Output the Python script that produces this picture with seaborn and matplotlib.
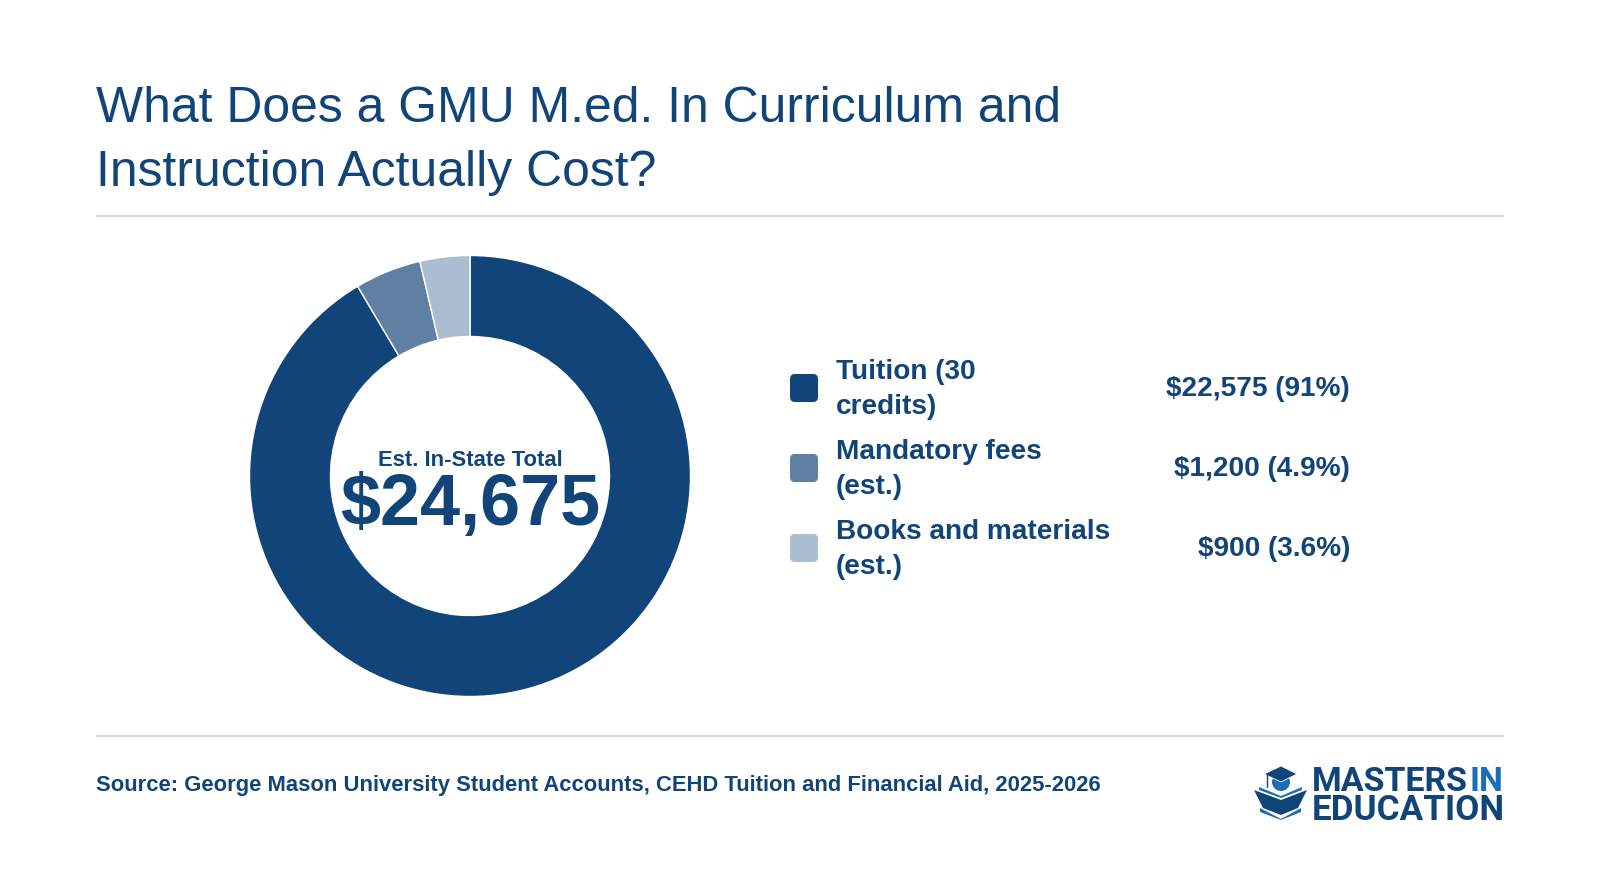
import matplotlib
matplotlib.use("Agg")
import matplotlib.pyplot as plt
import seaborn as sns
from matplotlib.patches import FancyBboxPatch, Polygon, Circle

categories = ["Tuition (30\ncredits)", "Mandatory fees\n(est.)", "Books and materials\n(est.)"]
costs = [22575, 1200, 900]
cost_labels = ["$22,575 (91%)", "$1,200 (4.9%)", "$900 (3.6%)"]
total_label = "$24,675"
total_caption = "Est. In-State Total"
title_lines = ["What Does a GMU M.ed. In Curriculum and", "Instruction Actually Cost?"]
source_text = "Source: George Mason University Student Accounts, CEHD Tuition and Financial Aid, 2025-2026"

NAVY = "#114478"
BRIGHT = "#1b6db5"
RULE = "#d3dde9"
palette = sns.color_palette(["#114478", "#5f7fa3", "#abbdd3"])

sns.set_theme(style="white")
plt.rcParams["font.family"] = ["Liberation Sans", "DejaVu Sans"]

W, H = 1600, 896
PX = 0.72  # points per pixel at 100 dpi
fig = plt.figure(figsize=(W / 100, H / 100), dpi=100, facecolor="white")

# Page-level layer addressed in pixels, y pointing down
page = fig.add_axes([0, 0, 1, 1])
page.set_xlim(0, W)
page.set_ylim(H, 0)
page.axis("off")

page.text(96, 122.5, title_lines[0], fontsize=49.9 * PX, color=NAVY, va="baseline")
page.text(96, 185.5, title_lines[1], fontsize=49.9 * PX, color=NAVY, va="baseline")
page.plot([96, 1504], [216, 216], color=RULE, lw=1.5, solid_capstyle="butt")
page.plot([96, 1504], [736, 736], color=RULE, lw=1.5, solid_capstyle="butt")

# Donut
cx, cy, r = 470, 476, 220.5
donut = fig.add_axes([(cx - r) / W, (H - cy - r) / H, 2 * r / W, 2 * r / H], zorder=1)
donut.pie(
    costs,
    colors=palette,
    startangle=90,
    counterclock=False,
    radius=1,
    wedgeprops=dict(width=81 / 220.5, edgecolor="white", linewidth=1),
)
donut.set_xlim(-1, 1)
donut.set_ylim(-1, 1)
donut.set_aspect("equal")
sns.despine(ax=donut, left=True, bottom=True)

# Centre labels sit above the donut
overlay = fig.add_axes([0, 0, 1, 1], zorder=2)
overlay.set_xlim(0, W)
overlay.set_ylim(H, 0)
overlay.axis("off")
overlay.patch.set_alpha(0)
overlay.text(cx, 466, total_caption, fontsize=22 * PX, fontweight="bold", color=NAVY,
             ha="center", va="baseline")
overlay.text(cx, 525, total_label, fontsize=72 * PX, fontweight="bold", color=NAVY,
             ha="center", va="baseline")

# Legend rows
row_y = [388, 468, 548]
for y, name, label, colour in zip(row_y, categories, cost_labels, palette):
    overlay.add_patch(FancyBboxPatch((794, y - 10), 20, 20, boxstyle="round,pad=4,rounding_size=5",
                                     fc=colour, ec="none"))
    first, second = name.split("\n")
    overlay.text(836, y - 9, first, fontsize=28 * PX, fontweight="bold", color=NAVY, va="baseline")
    overlay.text(836, y + 26, second, fontsize=28 * PX, fontweight="bold", color=NAVY, va="baseline")
    overlay.text(1350, y + 8, label, fontsize=28 * PX, fontweight="bold", color=NAVY,
                 ha="right", va="baseline")

overlay.text(96, 791, source_text, fontsize=22.05 * PX, fontweight="bold", color=NAVY, va="baseline")

# Brand mark: graduation cap over an open book
overlay.add_patch(Circle((1281, 782), 9, fc=BRIGHT, ec="none", zorder=1))
overlay.add_patch(Polygon([[1264, 774], [1281, 766], [1297, 774], [1281, 782]], fc=NAVY, ec="white",
                          lw=0.6, zorder=2))
overlay.plot([1267, 1267], [775, 787], color=NAVY, lw=1.0, zorder=2)
overlay.add_patch(Polygon([[1259, 787], [1281, 796], [1302, 787], [1302, 790], [1281, 798], [1259, 790]],
                          fc=BRIGHT, ec="none", zorder=2))
overlay.add_patch(Polygon([[1254, 790], [1281, 800], [1307, 790], [1298, 808], [1281, 815], [1263, 808]],
                          fc=NAVY, ec="none", zorder=2))
overlay.add_patch(Polygon([[1260, 808], [1281, 819], [1301, 808], [1301, 812], [1281, 820], [1260, 812]],
                          fc=BRIGHT, ec="none", zorder=2))

brand = ["Roboto", "Liberation Sans"]
overlay.text(1312, 791, "MASTERS", fontsize=34 * PX, fontweight="bold", color=NAVY, family=brand,
             va="baseline")
overlay.text(1503, 791, "IN", fontsize=34 * PX, fontweight="bold", color=BRIGHT, family=brand,
             ha="right", va="baseline")
overlay.text(1312, 820, "EDUCATION", fontsize=35 * PX, fontweight="bold", color=NAVY, family=brand,
             va="baseline")

fig.savefig("out.png", dpi=100, facecolor="white")
